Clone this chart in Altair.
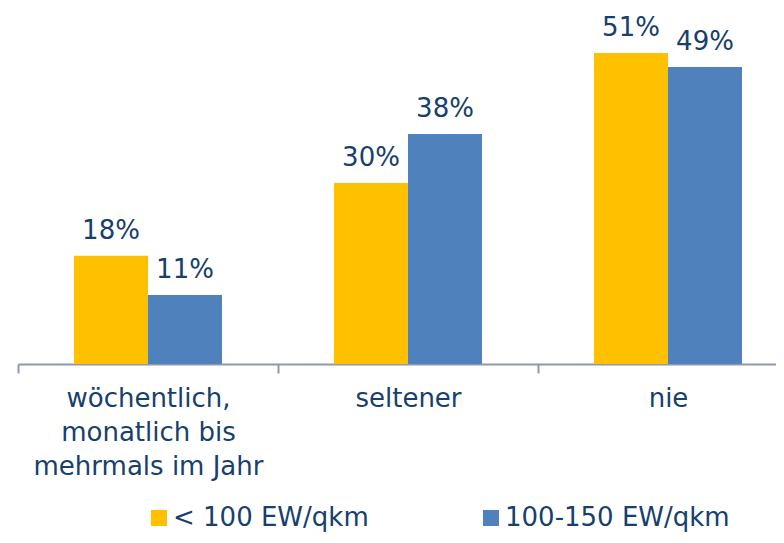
import json
import altair as alt
import pandas as pd

categories = ["wöchentlich, monatlich bis mehrmals im Jahr", "seltener", "nie"]
category_lines = [["wöchentlich,", "monatlich bis", "mehrmals im Jahr"], ["seltener"], ["nie"]]
series = ["< 100 EW/qkm", "100-150 EW/qkm"]
values_lt100 = [0.179, 0.299, 0.514]
values_100_150 = [0.114, 0.380, 0.491]
colors = ["#FFC000", "#4F81BD"]

TEXT = "#17406D"
FONT = "DejaVu Sans"
AXIS = "#8E99AB"

rows = []
for i, c in enumerate(categories):
    rows.append({"category": c, "series": series[0], "value": values_lt100[i]})
    rows.append({"category": c, "series": series[1], "value": values_100_150[i]})
df = pd.DataFrame(rows)

# label expression that splits the long category into lines
expr = "datum.label"
for c, lines in zip(categories, category_lines):
    if len(lines) > 1:
        expr = f"datum.label == {json.dumps(c, ensure_ascii=False)} ? {json.dumps(lines, ensure_ascii=False)} : " + expr

x = alt.X(
    "category:N",
    sort=categories,
    scale=alt.Scale(range=[0, 780], paddingInner=0.4308, paddingOuter=0.2154),
    axis=alt.Axis(
        title=None,
        labelAngle=0,
        labelExpr=expr,
        labelFont=FONT,
        labelFontSize=26,
        labelColor=TEXT,
        labelLineHeight=34,
        labelPadding=12,
        labelLimit=0,
        labelOverlap=False,
        tickSize=9,
        tickWidth=2,
        tickColor=AXIS,
        domainColor=AXIS,
        domainWidth=2,
        tickOffset=-130,
        labelOffset=130,
    ),
)
xo = alt.XOffset("series:N", sort=series, scale=alt.Scale(paddingInner=0, paddingOuter=0))
y = alt.Y("value:Q", scale=alt.Scale(domain=[0, 0.5884], nice=False, zero=True), axis=None)

bars = alt.Chart(df).mark_bar().encode(
    x=x,
    xOffset=xo,
    y=y,
    color=alt.Color(
        "series:N",
        sort=series,
        scale=alt.Scale(domain=series, range=colors),
        legend=alt.Legend(
            title=None,
            orient="none",
            legendX=128,
            legendY=497,
            direction="horizontal",
            symbolType="square",
            symbolSize=256,
            symbolStrokeWidth=0,
            symbolOpacity=1,
            labelFont=FONT,
            labelFontSize=26,
            labelColor=TEXT,
            labelOffset=1,
            labelLimit=0,
            columnPadding=109,
            padding=0,
        ),
    ),
)

labels = alt.Chart(df).mark_text(
    dy=-17, baseline="alphabetic", align="center", fontSize=26, font=FONT, color=TEXT
).encode(
    x=x,
    xOffset=xo,
    y=y,
    text=alt.Text("value:Q", format=".0%"),
)

chart = alt.layer(bars, labels).properties(
    width=758,
    height=356,
    autosize=alt.AutoSizeParams(type="none"),
    padding={"left": 10, "top": 0, "right": 0, "bottom": 171},
).configure_view(stroke=None)

chart.save("out.html", embed_options={"renderer": "svg", "actions": False})
